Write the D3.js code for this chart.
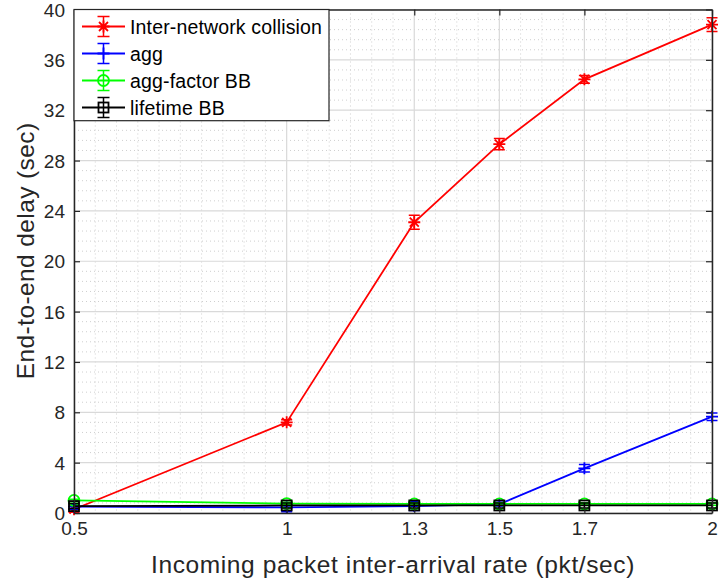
<!DOCTYPE html>
<html>
<head>
<meta charset="utf-8">
<script src="https://cdn.jsdelivr.net/npm/d3@7"></script>
<style>
  html, body { margin: 0; padding: 0; background: #fff; }
  svg { display: block; font-family: "Liberation Sans", Arial, sans-serif; }
</style>
</head>
<body>
<svg id="chart" width="720" height="588"></svg>
<script>
// Packet inter-arrival rates (pkt/sec)
const rates = [0.5, 1, 1.3, 1.5, 1.7, 2];
const xTickLabels = ["0.5", "1", "1.3", "1.5", "1.7", "2"];
const yTicks = [0, 4, 8, 12, 16, 20, 24, 28, 32, 36, 40];

// Mean end-to-end delay (sec) and error half-widths per scheme
const collisionDelay = [0.3, 7.2, 23.1, 29.3, 34.45, 38.8];
const collisionErr   = [0.25, 0.2, 0.55, 0.45, 0.3, 0.55];
const aggDelay       = [0.5, 0.45, 0.55, 0.7, 3.55, 7.65];
const aggErr         = [0.2, 0.35, 0.35, 0.15, 0.3, 0.3];
const aggFactorDelay = [1.0, 0.75, 0.72, 0.72, 0.72, 0.72];
const aggFactorErr   = [0.1, 0.1, 0.1, 0.1, 0.1, 0.1];
const lifetimeDelay  = [0.55, 0.6, 0.6, 0.6, 0.6, 0.6];
const lifetimeErr    = [0.2, 0.2, 0.2, 0.2, 0.2, 0.2];

const seriesNames = ["Inter-network collision", "agg", "agg-factor BB", "lifetime BB"];
const seriesColors = ["#ff0000", "#0000ff", "#00ff00", "#000000"];
const seriesMarkers = ["asterisk", "plus", "circle", "square"];

const series = [
  { values: collisionDelay, errs: collisionErr },
  { values: aggDelay, errs: aggErr },
  { values: aggFactorDelay, errs: aggFactorErr },
  { values: lifetimeDelay, errs: lifetimeErr }
].map((s, i) => ({ ...s, name: seriesNames[i], color: seriesColors[i], marker: seriesMarkers[i] }));

const svg = d3.select("#chart");
const plotLeft = 74, plotRight = 712, plotTop = 9.5, plotBottom = 513;
const axisColor = "#262626";

const x = d3.scaleLinear().domain([0.5, 2]).range([plotLeft, plotRight]);
const y = d3.scaleLinear().domain([0, 40]).range([plotBottom, plotTop]);

// Minor grid (dotted)
const xMinor = d3.range(0.5, 2.0001, 0.05).map(v => +v.toFixed(2)).filter(v => !rates.includes(v));
const yMinor = d3.range(0, 40.0001, 0.8).map(v => +v.toFixed(2)).filter(v => Math.abs(v / 4 - Math.round(v / 4)) > 1e-6);
const grid = svg.append("g");
grid.selectAll("line.xminor").data(xMinor).join("line")
  .attr("x1", d => x(d)).attr("x2", d => x(d)).attr("y1", plotTop).attr("y2", plotBottom)
  .attr("stroke", "#cfcfcf").attr("stroke-width", 1).attr("stroke-dasharray", "1,3");
grid.selectAll("line.yminor").data(yMinor).join("line")
  .attr("y1", d => y(d)).attr("y2", d => y(d)).attr("x1", plotLeft).attr("x2", plotRight)
  .attr("stroke", "#cfcfcf").attr("stroke-width", 1).attr("stroke-dasharray", "1,3");
// Major grid
grid.selectAll("line.xmajor").data(rates).join("line")
  .attr("x1", d => x(d)).attr("x2", d => x(d)).attr("y1", plotTop).attr("y2", plotBottom)
  .attr("stroke", "#d9d9d9").attr("stroke-width", 1.2);
grid.selectAll("line.ymajor").data(yTicks).join("line")
  .attr("y1", d => y(d)).attr("y2", d => y(d)).attr("x1", plotLeft).attr("x2", plotRight)
  .attr("stroke", "#d9d9d9").attr("stroke-width", 1.2);

// Series: lines, error bars, markers
const line = d3.line().x((d, i) => x(rates[i])).y(d => y(d));
const capW = 5.5;

function drawMarker(g, type, cx, cy, color) {
  const s = 6;
  if (type === "asterisk") {
    const p = d3.path();
    p.moveTo(cx - s, cy); p.lineTo(cx + s, cy);
    p.moveTo(cx, cy - s); p.lineTo(cx, cy + s);
    p.moveTo(cx - s * 0.75, cy - s * 0.75); p.lineTo(cx + s * 0.75, cy + s * 0.75);
    p.moveTo(cx - s * 0.75, cy + s * 0.75); p.lineTo(cx + s * 0.75, cy - s * 0.75);
    g.append("path").attr("d", p.toString()).attr("stroke", color).attr("stroke-width", 1.8).attr("fill", "none");
  } else if (type === "plus") {
    const p = d3.path();
    p.moveTo(cx - s, cy); p.lineTo(cx + s, cy);
    p.moveTo(cx, cy - s); p.lineTo(cx, cy + s);
    g.append("path").attr("d", p.toString()).attr("stroke", color).attr("stroke-width", 1.8).attr("fill", "none");
  } else if (type === "circle") {
    g.append("circle").attr("cx", cx).attr("cy", cy).attr("r", 5.5)
      .attr("stroke", color).attr("stroke-width", 1.8).attr("fill", "none");
  } else if (type === "square") {
    g.append("rect").attr("x", cx - 5).attr("y", cy - 5).attr("width", 10).attr("height", 10)
      .attr("stroke", color).attr("stroke-width", 1.8).attr("fill", "none");
  }
}

const plot = svg.append("g");
series.forEach(s => {
  const g = plot.append("g");
  g.append("path").datum(s.values).attr("d", line)
    .attr("fill", "none").attr("stroke", s.color).attr("stroke-width", 1.8);
  s.values.forEach((v, i) => {
    const cx = x(rates[i]);
    const y0 = y(v - s.errs[i]), y1 = y(v + s.errs[i]);
    const p = d3.path();
    p.moveTo(cx, y0); p.lineTo(cx, y1);
    p.moveTo(cx - capW, y0); p.lineTo(cx + capW, y0);
    p.moveTo(cx - capW, y1); p.lineTo(cx + capW, y1);
    g.append("path").attr("d", p.toString()).attr("stroke", s.color).attr("stroke-width", 1.5).attr("fill", "none");
    drawMarker(g, s.marker, cx, y(v), s.color);
  });
});

// Axes with inward ticks on all four sides
const tickLen = 6;
const xAxis = svg.append("g").attr("transform", `translate(0,${plotBottom})`)
  .call(d3.axisBottom(x).tickValues(rates).tickFormat((d, i) => xTickLabels[i])
    .tickSizeInner(-tickLen).tickSizeOuter(0).tickPadding(9));
const yAxis = svg.append("g").attr("transform", `translate(${plotLeft},0)`)
  .call(d3.axisLeft(y).tickValues(yTicks).tickFormat(d3.format("d"))
    .tickSizeInner(-tickLen).tickSizeOuter(0).tickPadding(9));
const xTop = svg.append("g").attr("transform", `translate(0,${plotTop})`)
  .call(d3.axisTop(x).tickValues(rates).tickFormat("").tickSizeInner(-tickLen).tickSizeOuter(0));
const yRight = svg.append("g").attr("transform", `translate(${plotRight},0)`)
  .call(d3.axisRight(y).tickValues(yTicks).tickFormat("").tickSizeInner(-tickLen).tickSizeOuter(0));

[xAxis, yAxis, xTop, yRight].forEach(a => {
  a.select(".domain").attr("stroke", axisColor).attr("stroke-width", 1.5);
  a.selectAll(".tick line").attr("stroke", axisColor).attr("stroke-width", 1.2);
  a.selectAll(".tick text").attr("fill", axisColor).attr("font-size", 19)
    .attr("font-family", "'Liberation Sans', Arial, sans-serif");
});
yAxis.selectAll(".tick text").attr("dy", "0.35em");
xAxis.selectAll(".tick text").attr("dy", "0.71em");

// Axis titles
svg.append("text").attr("x", (plotLeft + plotRight) / 2).attr("y", 573)
  .attr("text-anchor", "middle").attr("font-size", 24.5).attr("letter-spacing", 0.6)
  .attr("fill", axisColor)
  .text("Incoming packet inter-arrival rate (pkt/sec)");
svg.append("text").attr("transform", `translate(34,${(131.7 + 370) / 2}) rotate(-90)`)
  .attr("text-anchor", "middle").attr("font-size", 24.5).attr("letter-spacing", 0.4)
  .attr("fill", axisColor)
  .text("End-to-end delay (sec)");

// Legend
const legend = svg.append("g");
legend.append("rect").attr("x", plotLeft).attr("y", plotTop)
  .attr("width", 329 - plotLeft).attr("height", 120.7 - plotTop)
  .attr("fill", "#fff").attr("stroke", axisColor).attr("stroke-width", 1.2);
series.forEach((s, i) => {
  const cy = 26.5 + i * 27;
  const g = legend.append("g");
  g.append("line").attr("x1", 82).attr("x2", 125).attr("y1", cy).attr("y2", cy)
    .attr("stroke", s.color).attr("stroke-width", 1.8);
  const p = d3.path();
  const cx = 103.5, h = 10, cw = 6;
  p.moveTo(cx, cy - h); p.lineTo(cx, cy + h);
  p.moveTo(cx - cw, cy - h); p.lineTo(cx + cw, cy - h);
  p.moveTo(cx - cw, cy + h); p.lineTo(cx + cw, cy + h);
  g.append("path").attr("d", p.toString()).attr("stroke", s.color).attr("stroke-width", 1.5).attr("fill", "none");
  drawMarker(g, s.marker, cx, cy, s.color);
  g.append("text").attr("x", 130).attr("y", cy).attr("dy", "0.36em")
    .attr("font-size", 19.5).attr("letter-spacing", 0.15).attr("fill", "#000").text(s.name);
});
</script>
</body>
</html>
